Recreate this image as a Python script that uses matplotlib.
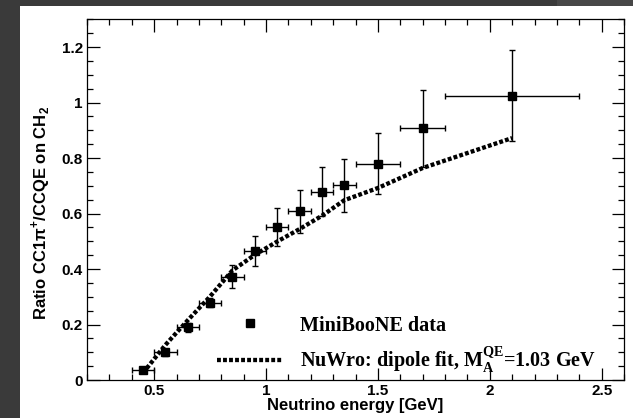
import matplotlib
matplotlib.use("Agg")
import matplotlib.pyplot as plt
from matplotlib.patches import Rectangle
from matplotlib.ticker import MultipleLocator, FixedLocator

# ---
# data
# ---

# MiniBooNE CC1pi+/CCQE ratio
energy = [0.45, 0.55, 0.65, 0.75, 0.85, 0.95, 1.05, 1.15, 1.25, 1.35, 1.5, 1.7, 2.1]
energy_err = [0.05, 0.05, 0.05, 0.05, 0.05, 0.05, 0.05, 0.05, 0.05, 0.05, 0.1, 0.1, 0.3]
ratio = [0.036, 0.100, 0.190, 0.279, 0.373, 0.466, 0.551, 0.608, 0.679, 0.701, 0.780, 0.907, 1.025]
ratio_err = [0.010, 0.012, 0.016, 0.015, 0.040, 0.054, 0.068, 0.078, 0.089, 0.096, 0.109, 0.139, 0.163]

# NuWro prediction, dipole fit
nuwro_energy = [0.45, 0.55, 0.65, 0.75, 0.85, 0.95, 1.05, 1.15, 1.25, 1.35, 1.5, 1.7, 2.1]
nuwro_ratio = [0.025, 0.126, 0.215, 0.301, 0.395, 0.451, 0.499, 0.544, 0.592, 0.648, 0.692, 0.764, 0.872]

x_ticks = [0.5, 1, 1.5, 2, 2.5]
x_ticklabels = ["0.5", "1", "1.5", "2", "2.5"]
y_ticks = [0, 0.2, 0.4, 0.6, 0.8, 1.0, 1.2]
y_ticklabels = ["0", "0.2", "0.4", "0.6", "0.8", "1", "1.2"]

# ---
# style
# ---
plt.rcParams["font.family"] = ["Liberation Sans", "DejaVu Sans"]
plt.rcParams["font.weight"] = "bold"
plt.rcParams["axes.labelweight"] = "bold"
plt.rcParams["mathtext.fontset"] = "custom"
plt.rcParams["mathtext.rm"] = "Liberation Sans:bold"
plt.rcParams["mathtext.bf"] = "Liberation Serif:bold"

W, H = 633, 418
fig = plt.figure(figsize=(W / 100, H / 100), dpi=100, facecolor="#3a3a3a")

# white page on the dark background
fig.patches.append(Rectangle((20 / W, 0), 1, (H - 6) / H, transform=fig.transFigure,
                             facecolor="white", edgecolor="none", zorder=-5))
fig.patches.append(Rectangle((557 / W, (H - 6) / H), 1, 1, transform=fig.transFigure,
                             facecolor="#474747", edgecolor="none", zorder=-5))

ax = fig.add_axes([87 / W, (H - 380) / H, 537 / W, 360.7 / H])

# data points with errors
ax.errorbar(energy, ratio, xerr=energy_err, yerr=ratio_err, fmt="none",
            ecolor="black", elinewidth=1.0, capsize=2.2, capthick=1.0, zorder=3)
ax.plot(energy, ratio, "s", color="black", markersize=5.5, zorder=4,
        label="MiniBooNE data")

# NuWro curve
ax.plot(nuwro_energy, nuwro_ratio, color="black", lw=3.1,
        linestyle=(0, (0.9, 0.5)), dash_capstyle="butt", zorder=2,
        label=r"NuWro: dipole fit, $\mathbf{M}_{\mathbf{A}}^{\mathbf{QE}}$=1.03 GeV")

ax.set_xlim(0.2, 2.6)
ax.set_ylim(0, 1.3)

ax.xaxis.set_major_locator(FixedLocator(x_ticks))
ax.set_xticklabels(x_ticklabels)
ax.xaxis.set_minor_locator(MultipleLocator(0.1))
ax.yaxis.set_major_locator(FixedLocator(y_ticks))
ax.set_yticklabels(y_ticklabels)
ax.yaxis.set_minor_locator(MultipleLocator(0.05))

ax.tick_params(which="both", direction="in", top=True, right=True, color="black",
               labelsize=11, pad=3)
ax.tick_params(which="major", length=9, width=0.9)
ax.tick_params(which="minor", length=4.5, width=0.9)
for s in ax.spines.values():
    s.set_linewidth(0.9)

ax.set_xlabel("Neutrino energy [GeV]", fontsize=12, labelpad=0)
ax.set_ylabel(r"Ratio CC1π$^{+}$/CCQE on CH$_{2}$", fontsize=12)
ax.yaxis.set_label_coords(-0.066, 0.463)

leg = ax.legend(loc="lower left", bbox_to_anchor=(0.215, -0.025), frameon=False,
                prop={"family": "Liberation Serif", "weight": "bold", "size": 14.5},
                handlelength=3.3, handletextpad=0.85, labelspacing=0.5,
                borderaxespad=0.3)

fig.savefig("out.png", dpi=100, facecolor=fig.get_facecolor())
